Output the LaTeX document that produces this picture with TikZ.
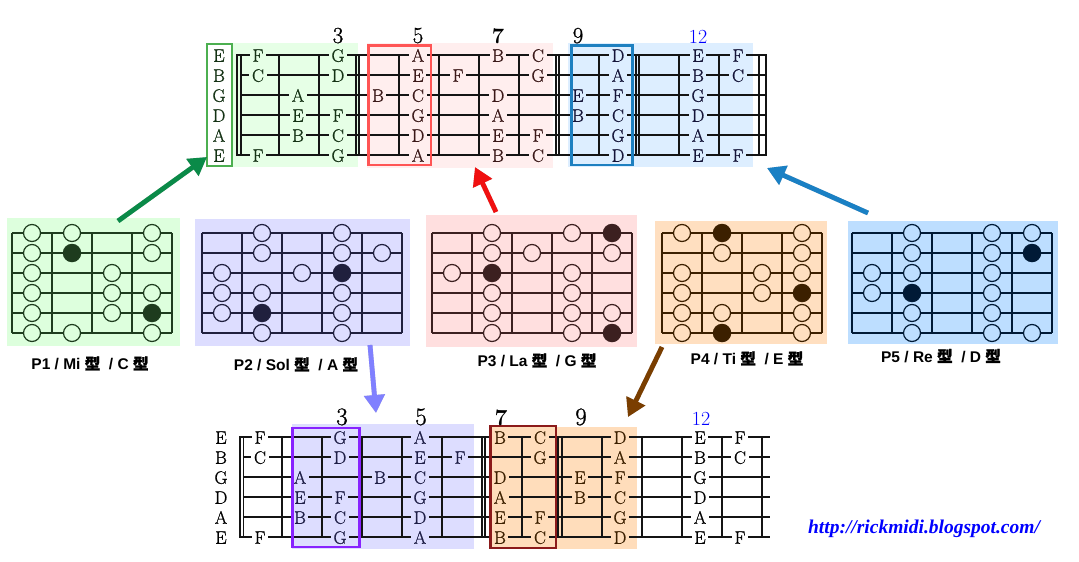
\documentclass[tikz,border=0pt]{standalone}
\usepackage{fontspec}
\newfontfamily\capfont{Liberation Sans}
\newfontfamily\cjkfont[FakeBold=1.5]{Noto Sans CJK SC}
\newfontfamily\urlfont{Liberation Serif}
\newfontfamily\nfont[FakeBold=0.9]{Latin Modern Roman}
\usetikzlibrary{arrows.meta}

\definecolor{gbg}{HTML}{E6FFE6}
\definecolor{pbg}{HTML}{FFEEEE}
\definecolor{bbg}{HTML}{DDEEFF}
\definecolor{gtx}{HTML}{143214}
\definecolor{ptx}{HTML}{3A1818}
\definecolor{btx}{HTML}{141438}
\definecolor{gboxc}{HTML}{4CAF50}
\definecolor{rboxc}{HTML}{FF5555}
\definecolor{bboxc}{HTML}{1E80C0}
\definecolor{lavbg}{HTML}{DDDDFF}
\definecolor{peachbg}{HTML}{FFDDBB}
\definecolor{navytx}{HTML}{1E1E46}
\definecolor{browntx}{HTML}{3C2000}
\definecolor{pboxc}{HTML}{8822FF}
\definecolor{dboxc}{HTML}{8B1A1A}
\definecolor{ponebg}{HTML}{DDFFDD}
\definecolor{ptwobg}{HTML}{DDDDFF}
\definecolor{pthreebg}{HTML}{FFDFDF}
\definecolor{pfourbg}{HTML}{FFDFC0}
\definecolor{pfivebg}{HTML}{BDDEFF}
\definecolor{ponel}{HTML}{1E3C1E}
\definecolor{ptwol}{HTML}{20203E}
\definecolor{pthreel}{HTML}{3C2020}
\definecolor{pfourl}{HTML}{3C2000}
\definecolor{pfivel}{HTML}{001A36}
\definecolor{agreen}{HTML}{0A8A48}
\definecolor{ared}{HTML}{F01010}
\definecolor{ablue}{HTML}{1A80C4}
\definecolor{alav}{HTML}{8080FF}
\definecolor{abrown}{HTML}{7A3E00}

\def\fbnotes{1/1/F,1/3/G,1/5/A,1/7/B,1/8/C,1/10/D,1/12/E,1/13/F,%
2/1/C,2/3/D,2/5/E,2/6/F,2/8/G,2/10/A,2/12/B,2/13/C,%
3/2/A,3/4/B,3/5/C,3/7/D,3/9/E,3/10/F,3/12/G,%
4/2/E,4/3/F,4/5/G,4/7/A,4/9/B,4/10/C,4/12/D,%
5/2/B,5/3/C,5/5/D,5/7/E,5/8/F,5/10/G,5/12/A,%
6/1/F,6/3/G,6/5/A,6/7/B,6/8/C,6/10/D,6/12/E,6/13/F}

\newcommand\drawdia[7]{%
  \foreach \j in {0,...,5}{\draw[diagline,draw=#4] (#2,{233+20*\j}) -- ({#2+40*#3},{233+20*\j});}
  \foreach \k in {0,...,#3}{\draw[diagline,draw=#4] ({#2+40*\k},233) -- ({#2+40*\k},333);}
  \foreach \c/\s in {#6}{\node[opendot,draw=#4,fill=#5] (#1-\c-\s) at ({#2-20+40*\c},{213+20*\s}) {};}
  \foreach \c/\s in {#7}{\node[fulldot,fill=#4] (#1-\c-\s) at ({#2-20+40*\c},{213+20*\s}) {};}
}

\begin{document}
\begin{tikzpicture}[x=1pt,y=-1pt,
  note/.style={inner xsep=2.5pt,inner ysep=0.5pt,text height=12.5pt,text depth=0pt,font=\nfont\fontsize{18}{18}\selectfont},
  fretnum/.style={anchor=base,inner sep=0pt,font=\nfont\fontsize{23}{23}\selectfont},
  fretnumb/.style={anchor=base,inner sep=0pt,font=\nfont\fontsize{25}{25}\selectfont},
  wire/.style={line width=1.2pt,draw=black!92},
  diagline/.style={line width=1.2pt},
  opendot/.style={circle,minimum size=17pt,inner sep=0pt,line width=1.2pt},
  fulldot/.style={circle,minimum size=18.5pt,inner sep=0pt},
  caption/.style={inner sep=0pt,text height=11pt,text depth=0pt,font=\capfont\bfseries\fontsize{15.5}{16}\selectfont},
  fatarrow/.style={line width=4.8pt,-{Triangle[length=18pt,width=20pt]}},
  shadowarrow/.style={line width=4.8pt,-{Triangle[length=18pt,width=20pt]},draw=black,fill=black,opacity=0.22},
  regbox/.style={line width=2.2pt}
]
\useasboundingbox (0,0) rectangle (1079,562);
\fill[white] (0,0) rectangle (1079,562);

%% ---------- TOP FRETBOARD ----------
\fill[gbg] (232,43) rectangle (358,167);
\fill[pbg] (367,43) rectangle (553,168);
\fill[bbg] (568,43) rectangle (753,167);

\foreach \s in {1,...,6}{\draw[wire] (241,{35+20*\s}) -- (767,{35+20*\s});}
\draw[wire] (237,55) rectangle (241,155);
\foreach \k in {1,...,13}{\draw[wire] ({239+40*\k},55) -- ({239+40*\k},155);}
\foreach \xx in {356,556,636,766}{\draw[wire] (\xx,55) -- (\xx,155);}

\foreach \s/\n in {1/E,2/B,3/G,4/D,5/A,6/E}{\node[note,text=gtx] (to-\s) at (219,{35.5+20*\s}) {\n};}

\foreach \s/\f/\n in \fbnotes{%
  \ifnum\f<4 \def\bgc{gbg}\def\fgc{gtx}\else\ifnum\f<9 \def\bgc{pbg}\def\fgc{ptx}\else\def\bgc{bbg}\def\fgc{btx}\fi\fi
  \node[note,fill=\bgc,text=\fgc] (t-\s-\f) at ({258+40*(\f-1)},{35.5+20*\s}) {\n};
}

\draw[regbox,gboxc] (207,44) rectangle (232,166);
\draw[regbox,rboxc] (368.5,45.5) rectangle (431,165);
\draw[regbox,bboxc] (571.5,45.5) rectangle (632.5,165);

\node[fretnum] (tn3) at (338,43) {3};
\node[fretnum] (tn5) at (418,43) {5};
\node[fretnum,font=\bfseries\fontsize{22}{22}\selectfont] (tn7) at (498,43) {7};
\node[fretnum] (tn9) at (578,43) {9};
\node[fretnum,text=blue,font=\fontsize{20}{20}\selectfont] (tn12) at (698,43) {12};

%% ---------- PATTERN DIAGRAMS ----------
\fill[ponebg] (7,218) rectangle (180,346);
\fill[ptwobg] (195,219) rectangle (410,346);
\fill[pthreebg] (426,215) rectangle (637,347);
\fill[pfourbg] (655,221) rectangle (827,344);
\fill[pfivebg] (848,221) rectangle (1058,344);

\drawdia{pa}{12}{4}{ponel}{ponebg}{1/1,1/2,1/3,1/4,1/5,1/6,2/1,2/6,3/3,3/4,3/5,4/1,4/2,4/4,4/6}{2/2,4/5}
\drawdia{pb}{202}{5}{ptwol}{ptwobg}{1/3,1/4,1/5,2/1,2/2,2/4,2/6,3/3,4/1,4/2,4/4,4/5,4/6,5/2}{2/5,4/3}
\drawdia{pc}{432}{5}{pthreel}{pthreebg}{1/3,2/1,2/2,2/4,2/5,2/6,3/2,4/1,4/3,4/4,4/5,4/6,5/2,5/5}{2/3,5/1,5/6}
\drawdia{pd}{662}{4}{pfourl}{pfourbg}{1/1,1/3,1/4,1/5,1/6,2/2,2/5,3/3,3/4,4/1,4/2,4/3,4/5,4/6}{2/1,2/6,4/4}
\drawdia{pe}{852}{5}{pfivel}{pfivebg}{1/3,1/4,2/1,2/2,2/3,2/5,2/6,4/1,4/2,4/3,4/4,4/5,4/6,5/1,5/6}{2/4,5/2}

\node[caption] (cap1) at (90,364) {P1 / Mi {\cjkfont 型}~~/ C {\cjkfont 型}};
\node[caption] (cap2) at (296,365) {P2 / Sol {\cjkfont 型}~~/ A {\cjkfont 型}};
\node[caption] (cap3) at (537,361) {P3 / La {\cjkfont 型}~~/ G {\cjkfont 型}};
\node[caption] (cap4) at (747,359) {P4 / Ti {\cjkfont 型}~~/ E {\cjkfont 型}};
\node[caption] (cap5) at (941,356.5) {P5 / Re {\cjkfont 型}~~/ D {\cjkfont 型}};

%% ---------- BOTTOM FRETBOARD ----------
\fill[lavbg] (292,424) rectangle (474,549);
\fill[peachbg] (490,427) rectangle (637,549);

\foreach \s in {1,...,6}{\draw[wire] (243,{417+20*\s}) -- (770,{417+20*\s});}
\draw[wire] (240,437) rectangle (243.5,537);
\foreach \k in {1,...,13}{\draw[wire] ({242+40*\k},437) -- ({242+40*\k},537);}
\foreach \xx in {359,485,558}{\draw[wire] (\xx,437) -- (\xx,537);}

\foreach \s/\n in {1/E,2/B,3/G,4/D,5/A,6/E}{\node[note] (bo-\s) at (221,{417.5+20*\s}) {\n};}

\foreach \s/\f/\n in \fbnotes{%
  \ifnum\f<2 \def\bgc{white}\def\fgc{black}\else\ifnum\f<7 \def\bgc{lavbg}\def\fgc{navytx}\else\ifnum\f<11 \def\bgc{peachbg}\def\fgc{browntx}\else\def\bgc{white}\def\fgc{black}\fi\fi\fi
  \node[note,fill=\bgc,text=\fgc] (b-\s-\f) at ({260+40*(\f-1)},{417.5+20*\s}) {\n};
}

\draw[regbox,pboxc] (292.5,428) rectangle (359.5,547);
\draw[regbox,dboxc] (490.5,426) rectangle (556,548);

\node[fretnumb] (bn3) at (342,425) {3};
\node[fretnumb] (bn5) at (421,425) {5};
\node[fretnumb,font=\bfseries\fontsize{23}{23}\selectfont] (bn7) at (501,425) {7};
\node[fretnumb] (bn9) at (581,425) {9};
\node[fretnumb,text=blue,font=\fontsize{20}{20}\selectfont] (bn12) at (701,425) {12};

%% ---------- URL ----------
\node[anchor=base,inner sep=0pt,text=blue,font=\urlfont\bfseries\itshape\fontsize{19.5}{20}\selectfont] (url) at (924,533) {http://rickmidi.blogspot.com/};

%% ---------- ARROWS ----------
\coordinate (ga1) at (118,221); \coordinate (ga2) at (207,157);
\coordinate (ra1) at (496,212); \coordinate (ra2) at (475,167);
\coordinate (ba1) at (868,213); \coordinate (ba2) at (767,168);
\coordinate (la1) at (370,345); \coordinate (la2) at (376,413);
\coordinate (wa1) at (662,347); \coordinate (wa2) at (628,417);

\begin{scope}[shift={(3,3)}]
  \draw[shadowarrow] (ga1) -- (ga2);
  \draw[shadowarrow] (ra1) -- (ra2);
  \draw[shadowarrow] (ba1) -- (ba2);
  \draw[shadowarrow] (la1) -- (la2);
  \draw[shadowarrow] (wa1) -- (wa2);
\end{scope}
\draw[fatarrow,agreen] (ga1) -- (ga2);
\draw[fatarrow,ared] (ra1) -- (ra2);
\draw[fatarrow,ablue] (ba1) -- (ba2);
\draw[fatarrow,alav] (la1) -- (la2);
\draw[fatarrow,abrown] (wa1) -- (wa2);
\end{tikzpicture}
\end{document}
